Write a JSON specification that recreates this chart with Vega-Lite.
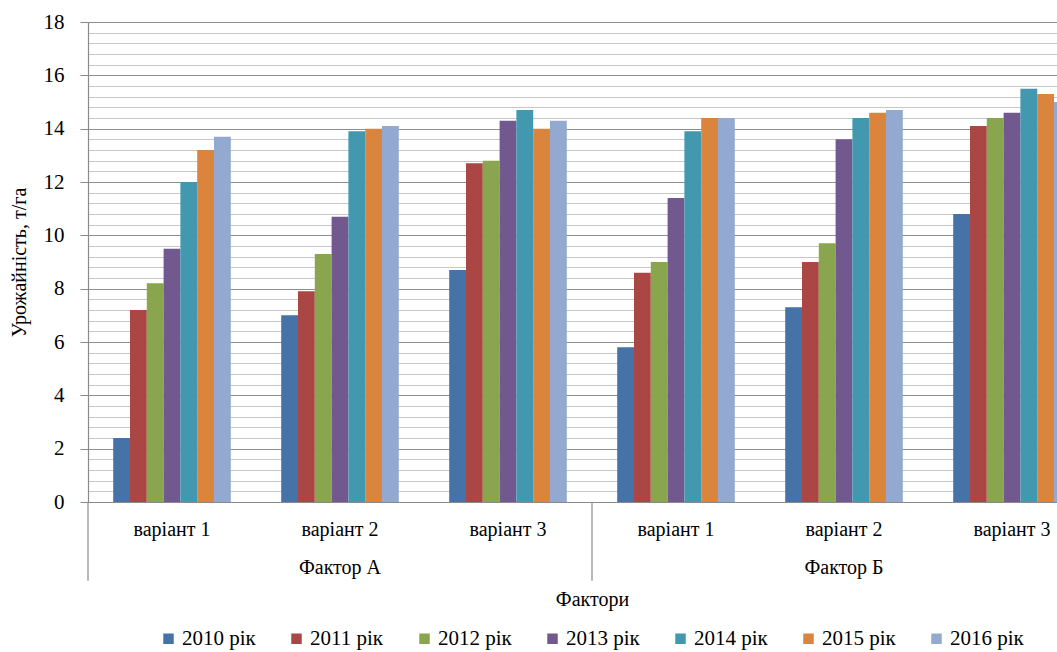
{
  "$schema": "https://vega.github.io/schema/vega-lite/v6.json",
  "autosize": {"type": "none"},
  "width": 969,
  "height": 480,
  "padding": {"left": 88, "top": 22, "right": 0, "bottom": 150},
  "background": "white",
  "config": {
    "view": {"stroke": null},
    "font": "Liberation Serif, Times New Roman, DejaVu Serif, serif",
    "axis": {"labelFont": "Liberation Serif, Times New Roman, DejaVu Serif, serif", "titleFont": "Liberation Serif, Times New Roman, DejaVu Serif, serif", "labelColor": "black", "titleColor": "black", "titleFontWeight": "normal"},
    "legend": {"labelFont": "Liberation Serif, Times New Roman, DejaVu Serif, serif", "labelColor": "black"}
  },
  "layer": [
    {
      "data": {"values": [
        {"key": "A1", "year": "2010 рік", "value": 2.4},
        {"key": "A1", "year": "2011 рік", "value": 7.2},
        {"key": "A1", "year": "2012 рік", "value": 8.2},
        {"key": "A1", "year": "2013 рік", "value": 9.5},
        {"key": "A1", "year": "2014 рік", "value": 12.0},
        {"key": "A1", "year": "2015 рік", "value": 13.2},
        {"key": "A1", "year": "2016 рік", "value": 13.7},
        {"key": "A2", "year": "2010 рік", "value": 7.0},
        {"key": "A2", "year": "2011 рік", "value": 7.9},
        {"key": "A2", "year": "2012 рік", "value": 9.3},
        {"key": "A2", "year": "2013 рік", "value": 10.7},
        {"key": "A2", "year": "2014 рік", "value": 13.9},
        {"key": "A2", "year": "2015 рік", "value": 14.0},
        {"key": "A2", "year": "2016 рік", "value": 14.1},
        {"key": "A3", "year": "2010 рік", "value": 8.7},
        {"key": "A3", "year": "2011 рік", "value": 12.7},
        {"key": "A3", "year": "2012 рік", "value": 12.8},
        {"key": "A3", "year": "2013 рік", "value": 14.3},
        {"key": "A3", "year": "2014 рік", "value": 14.7},
        {"key": "A3", "year": "2015 рік", "value": 14.0},
        {"key": "A3", "year": "2016 рік", "value": 14.3},
        {"key": "B1", "year": "2010 рік", "value": 5.8},
        {"key": "B1", "year": "2011 рік", "value": 8.6},
        {"key": "B1", "year": "2012 рік", "value": 9.0},
        {"key": "B1", "year": "2013 рік", "value": 11.4},
        {"key": "B1", "year": "2014 рік", "value": 13.9},
        {"key": "B1", "year": "2015 рік", "value": 14.4},
        {"key": "B1", "year": "2016 рік", "value": 14.4},
        {"key": "B2", "year": "2010 рік", "value": 7.3},
        {"key": "B2", "year": "2011 рік", "value": 9.0},
        {"key": "B2", "year": "2012 рік", "value": 9.7},
        {"key": "B2", "year": "2013 рік", "value": 13.6},
        {"key": "B2", "year": "2014 рік", "value": 14.4},
        {"key": "B2", "year": "2015 рік", "value": 14.6},
        {"key": "B2", "year": "2016 рік", "value": 14.7},
        {"key": "B3", "year": "2010 рік", "value": 10.8},
        {"key": "B3", "year": "2011 рік", "value": 14.1},
        {"key": "B3", "year": "2012 рік", "value": 14.4},
        {"key": "B3", "year": "2013 рік", "value": 14.6},
        {"key": "B3", "year": "2014 рік", "value": 15.5},
        {"key": "B3", "year": "2015 рік", "value": 15.3},
        {"key": "B3", "year": "2016 рік", "value": 15.0}
      ]},
      "mark": {"type": "bar", "clip": true},
      "encoding": {
        "x": {
          "field": "key", "type": "nominal",
          "scale": {"domain": ["A1", "A2", "A3", "B1", "B2", "B3"], "range": [0, 1008], "paddingInner": 0, "paddingOuter": 0},
          "axis": {
            "title": "Фактори", "titleFontSize": 20, "titlePadding": 12,
            "labelExpr": "datum.value == 'A2' ? ['варіант 2', 'Фактор А'] : datum.value == 'B2' ? ['варіант 2', 'Фактор Б'] : 'варіант ' + slice(datum.value, 1)",
            "labelAngle": 0, "labelFontSize": 20, "labelLineHeight": 38, "labelPadding": 17,
            "labelOverlap": false, "labelBound": false,
            "ticks": false, "grid": false, "domainColor": "#8a8a8a", "domainWidth": 1.2
          }
        },
        "xOffset": {"field": "year", "type": "nominal", "scale": {"range": [25.2, 142.8], "paddingInner": 0, "paddingOuter": 0}},
        "y": {
          "field": "value", "type": "quantitative",
          "scale": {"domain": [0, 18], "nice": false},
          "axis": {
            "title": "Урожайність, т/га", "titleFontSize": 20, "titlePadding": 14,
            "tickCount": 100,
            "values": [0, 0.4, 0.8, 1.2, 1.6, 2, 2.4, 2.8, 3.2, 3.6, 4, 4.4, 4.8, 5.2, 5.6, 6, 6.4, 6.8, 7.2, 7.6, 8, 8.4, 8.8, 9.2, 9.6, 10, 10.4, 10.8, 11.2, 11.6, 12, 12.4, 12.8, 13.2, 13.6, 14, 14.4, 14.8, 15.2, 15.6, 16, 16.4, 16.8, 17.2, 17.6, 18],
            "labelExpr": "datum.value % 2 === 0 ? format(datum.value, 'd') : ''",
            "labelFontSize": 21, "labelPadding": 16, "labelOverlap": false, "labelBound": false,
            "tickSize": 8, "tickColor": "#8a8a8a",
            "tickOpacity": {"condition": {"test": "datum.value % 2 === 0", "value": 1}, "value": 0},
            "gridColor": {"condition": {"test": "datum.value % 2 === 0", "value": "#8e8e8e"}, "value": "#c6c6c6"},
            "gridWidth": 1.2,
            "domainColor": "#8a8a8a", "domainWidth": 1.2
          }
        },
        "color": {
          "field": "year", "type": "nominal",
          "scale": {"range": ["#4572A7", "#AA4643", "#89A54E", "#71588F", "#4198AF", "#DB843D", "#93A9CF"]},
          "legend": {
            "title": null, "orient": "none", "direction": "horizontal", "columns": 7,
            "legendX": 70, "legendY": 606,
            "symbolType": "square", "symbolSize": 110, "symbolStrokeWidth": 0,
            "labelFontSize": 21, "labelOffset": 3, "columnPadding": 30
          }
        }
      }
    },
    {
      "data": {"values": [{"key": "A1"}, {"key": "B1"}]},
      "mark": {"type": "rule", "color": "#8a8a8a", "strokeWidth": 1.2},
      "encoding": {
        "x": {"field": "key", "type": "nominal", "bandPosition": 0},
        "y": {"datum": 0},
        "y2": {"datum": -2.95}
      }
    }
  ]
}
